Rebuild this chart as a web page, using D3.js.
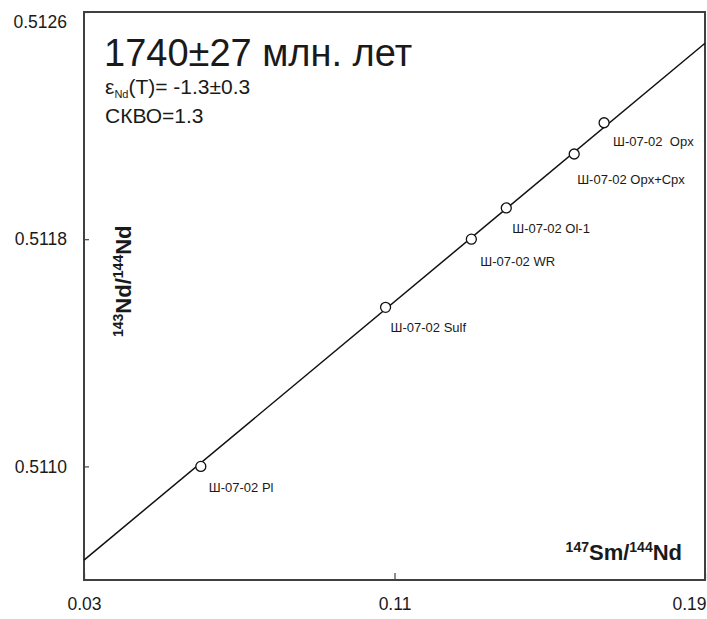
<!doctype html>
<html>
  <head>
    <meta charset="utf-8">
    <title>Sm-Nd изохрона</title>
    <script src="https://cdnjs.cloudflare.com/ajax/libs/d3/7.8.5/d3.min.js"></script>
    <style>
      body { margin: 0; background: #fff; }
      svg text { font-family: Arial, "Liberation Sans", sans-serif; fill: #1a1a1a; }
    </style>
  </head>
  <body>
    <div id="chart"></div>
    <script>
      // пробы (147Sm/144Nd, 143Nd/144Nd)
      const samples = ['Ш-07-02 Pl', 'Ш-07-02 Sulf', 'Ш-07-02 WR', 'Ш-07-02 Ol-1', 'Ш-07-02 Opx+Cpx', 'Ш-07-02  Opx'];
      const smNd = [0.0601, 0.1077, 0.1298, 0.1388, 0.1563, 0.1640];
      const ndNd = [0.51100, 0.51156, 0.51180, 0.51191, 0.51210, 0.51221];

      // изохрона (концы линии)
      const isoX = [0.03, 0.19];
      const isoY = [0.51067, 0.51249];

      const xTicks = [0.03, 0.11, 0.19];
      const yTicks = [0.5110, 0.5118, 0.5126];

      // сдвиг подписей от точки
      const labelDx = [8, 5, 9, 6, 3, 9];
      const labelDy = [26, 25, 27, 25, 30, 23];

      const W = 707, H = 619;
      const m = { top: 12, right: 2, bottom: 39, left: 84 };

      const x = d3.scaleLinear().domain([0.03, 0.19]).range([m.left, W - m.right]);
      const y = d3.scaleLinear().domain([0.5106, 0.5126]).range([H - m.bottom, m.top]);

      const svg = d3.select('#chart').append('svg')
        .attr('width', W)
        .attr('height', H);

      // оси
      const yAxis = svg.append('g')
        .attr('transform', `translate(${m.left},0)`)
        .call(d3.axisLeft(y).tickValues(yTicks).tickFormat(d3.format('.4f')).tickSize(-5).tickPadding(17));
      const xAxis = svg.append('g')
        .attr('transform', `translate(0,${H - m.bottom})`)
        .call(d3.axisBottom(x).tickValues(xTicks).tickFormat(d => d.toFixed(2)).tickSize(-7).tickPadding(18));

      [xAxis, yAxis].forEach(g => {
        g.select('.domain').remove();
        g.selectAll('line').attr('stroke', '#444').attr('stroke-width', 1.2);
        g.selectAll('text').style('font-size', '17.5px').attr('fill', '#1a1a1a');
      });
      // верхняя подпись сдвинута вниз, правая - влево
      yAxis.selectAll('.tick').filter(d => d === 0.5126).select('text').attr('dy', '0.9em');
      xAxis.selectAll('.tick').filter(d => d === 0.19).select('text').attr('text-anchor', 'end').attr('x', 1);

      // рамка
      svg.append('rect')
        .attr('x', m.left)
        .attr('y', m.top)
        .attr('width', W - m.right - m.left)
        .attr('height', H - m.bottom - m.top)
        .attr('fill', 'none')
        .attr('stroke', '#404040')
        .attr('stroke-width', 2);

      // линия изохроны
      svg.append('line')
        .attr('x1', x(isoX[0])).attr('y1', y(isoY[0]))
        .attr('x2', x(isoX[1])).attr('y2', y(isoY[1]))
        .attr('stroke', '#111')
        .attr('stroke-width', 1.5);

      // точки
      svg.selectAll('circle.pt')
        .data(smNd)
        .join('circle')
        .attr('class', 'pt')
        .attr('cx', d => x(d))
        .attr('cy', (d, i) => y(ndNd[i]))
        .attr('r', 5)
        .attr('fill', '#fff')
        .attr('stroke', '#111')
        .attr('stroke-width', 1.3);

      svg.selectAll('text.lbl')
        .data(samples)
        .join('text')
        .attr('class', 'lbl')
        .attr('x', (d, i) => x(smNd[i]) + labelDx[i])
        .attr('y', (d, i) => y(ndNd[i]) + labelDy[i])
        .style('font-size', '13px')
        .style('white-space', 'pre')
        .text(d => d);

      // заголовок
      svg.append('text')
        .attr('x', 104).attr('y', 66)
        .style('font-size', '38px')
        .text('1740±27 млн. лет');

      const eps = svg.append('text')
        .attr('x', 105).attr('y', 94)
        .style('font-size', '21px');
      eps.append('tspan').text('ε');
      eps.append('tspan').attr('dy', 4).style('font-size', '11px').text('Nd');
      eps.append('tspan').attr('dy', -4).text('(T)= -1.3±0.3');

      svg.append('text')
        .attr('x', 105).attr('y', 123)
        .style('font-size', '21px')
        .text('СКВО=1.3');

      // подписи осей
      const yl = svg.append('text')
        .attr('transform', 'translate(131,337) rotate(-90)')
        .style('font-size', '22px')
        .style('font-weight', 'bold');
      yl.append('tspan').attr('dy', -8).style('font-size', '14px').text('143');
      yl.append('tspan').attr('dy', 8).text('Nd/');
      yl.append('tspan').attr('dy', -8).style('font-size', '14px').text('144');
      yl.append('tspan').attr('dy', 8).text('Nd');

      const xl = svg.append('text')
        .attr('x', 682).attr('y', 560)
        .attr('text-anchor', 'end')
        .style('font-size', '22px')
        .style('font-weight', 'bold');
      xl.append('tspan').attr('dy', -8).style('font-size', '14px').text('147');
      xl.append('tspan').attr('dy', 8).text('Sm/');
      xl.append('tspan').attr('dy', -8).style('font-size', '14px').text('144');
      xl.append('tspan').attr('dy', 8).text('Nd');
    </script>
  </body>
</html>
